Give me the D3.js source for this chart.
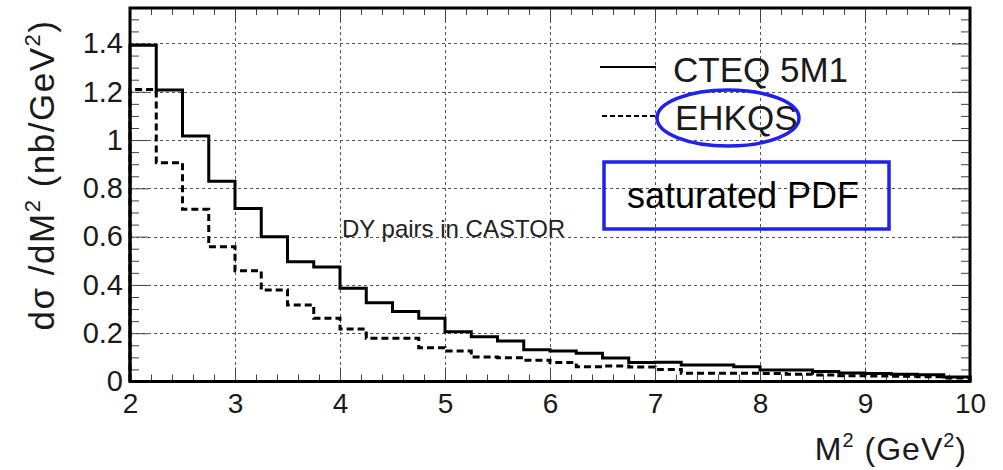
<!DOCTYPE html>
<html>
<head>
<meta charset="utf-8">
<script src="https://cdn.jsdelivr.net/npm/d3@7"></script>
<style>
  html, body { margin: 0; padding: 0; background: #fff; }
  svg { display: block; }
  text { font-family: "Liberation Sans", Arial, Helvetica, sans-serif; }
</style>
</head>
<body>
<svg id="chart" width="1003" height="470"></svg>
<script>
// ---- data ----
const binEdgesStart = [2.0, 2.25, 2.5, 2.75, 3.0, 3.25, 3.5, 3.75, 4.0, 4.25, 4.5, 4.75,
  5.0, 5.25, 5.5, 5.75, 6.0, 6.25, 6.5, 6.75, 7.0, 7.25, 7.5, 7.75,
  8.0, 8.25, 8.5, 8.75, 9.0, 9.25, 9.5, 9.75];
const binWidth = 0.25;
const cteq5m1 = [1.393, 1.207, 1.017, 0.829, 0.717, 0.600, 0.496, 0.474, 0.386, 0.326, 0.290, 0.262,
  0.206, 0.185, 0.168, 0.131, 0.126, 0.117, 0.097, 0.079, 0.080, 0.068, 0.068, 0.061,
  0.048, 0.048, 0.041, 0.035, 0.033, 0.030, 0.028, 0.019];
const ehkqs = [1.209, 0.906, 0.713, 0.558, 0.459, 0.379, 0.317, 0.262, 0.217, 0.179, 0.179, 0.140,
  0.126, 0.101, 0.098, 0.088, 0.079, 0.061, 0.064, 0.060, 0.050, 0.034, 0.034, 0.034,
  0.033, 0.030, 0.027, 0.024, 0.023, 0.022, 0.020, 0.015];
const xTickValues = [2, 3, 4, 5, 6, 7, 8, 9, 10];
const xTickLabels = ["2", "3", "4", "5", "6", "7", "8", "9", "10"];
const yTickValues = [0, 0.2, 0.4, 0.6, 0.8, 1.0, 1.2, 1.4];
const yTickLabels = ["0", "0.2", "0.4", "0.6", "0.8", "1", "1.2", "1.4"];
const xDomain = [2, 10];
const yDomain = [0, 1.547];
const legendLabels = ["CTEQ 5M1", "EHKQS"];
const annotation = "DY pairs in CASTOR";
const boxLabel = "saturated PDF";

// ---- layout ----
const L = 130, R = 970, T = 8, B = 381.5;
const svg = d3.select("#chart");
svg.append("rect").attr("width", 1003).attr("height", 470).attr("fill", "#fff");

const x = d3.scaleLinear().domain(xDomain).range([L, R]);
const y = d3.scaleLinear().domain(yDomain).range([B, T]);

const xMinor = d3.range(2, 10.0001, 0.2).map(v => +v.toFixed(2)).filter(v => Math.abs(v - Math.round(v)) > 1e-6);
const yMinor = d3.range(0, 1.5401, 0.05).map(v => +v.toFixed(2)).filter(v => !yTickValues.some(t => Math.abs(t - v) < 1e-6));

// grid
const grid = svg.append("g").attr("stroke", "#555").attr("stroke-width", 1).attr("stroke-dasharray", "3,3");
grid.selectAll("line.gx").data(xTickValues.slice(1, -1)).join("line")
  .attr("x1", d => Math.round(x(d)) + 0.5).attr("x2", d => Math.round(x(d)) + 0.5)
  .attr("y1", T).attr("y2", B);
grid.selectAll("line.gy").data(yTickValues.slice(1)).join("line")
  .attr("y1", d => Math.round(y(d)) + 0.5).attr("y2", d => Math.round(y(d)) + 0.5)
  .attr("x1", L).attr("x2", R);

// axes (ticks inward)
function styleAxis(g) {
  g.select(".domain").remove();
  g.selectAll(".tick line").attr("stroke", "#444").attr("stroke-width", 1);
  g.selectAll("text").attr("fill", "#1a1a1a").attr("font-size", 28)
    .style("font-family", "'Liberation Sans', Arial, sans-serif");
}
const axB = svg.append("g").attr("transform", `translate(0,${B})`)
  .call(d3.axisBottom(x).tickValues(xTickValues).tickSize(-14).tickPadding(12)
    .tickFormat((d, i) => xTickLabels[i]));
styleAxis(axB);
const axBm = svg.append("g").attr("transform", `translate(0,${B})`)
  .call(d3.axisBottom(x).tickValues(xMinor).tickSize(-7).tickFormat(""));
styleAxis(axBm);
const axT = svg.append("g").attr("transform", `translate(0,${T})`)
  .call(d3.axisTop(x).tickValues(xTickValues).tickSize(-14).tickFormat(""));
styleAxis(axT);
const axTm = svg.append("g").attr("transform", `translate(0,${T})`)
  .call(d3.axisTop(x).tickValues(xMinor).tickSize(-7).tickFormat(""));
styleAxis(axTm);
const axL = svg.append("g").attr("transform", `translate(${L},0)`)
  .call(d3.axisLeft(y).tickValues(yTickValues).tickSize(-18).tickPadding(7)
    .tickFormat((d, i) => yTickLabels[i]));
styleAxis(axL);
axL.selectAll("text").attr("font-size", 29);
const axLm = svg.append("g").attr("transform", `translate(${L},0)`)
  .call(d3.axisLeft(y).tickValues(yMinor).tickSize(-9).tickFormat(""));
styleAxis(axLm);
const axR = svg.append("g").attr("transform", `translate(${R},0)`)
  .call(d3.axisRight(y).tickValues(yTickValues).tickSize(-18).tickFormat(""));
styleAxis(axR);
const axRm = svg.append("g").attr("transform", `translate(${R},0)`)
  .call(d3.axisRight(y).tickValues(yMinor).tickSize(-9).tickFormat(""));
styleAxis(axRm);

// histograms
function histPoints(vals) {
  const pts = [[binEdgesStart[0], 0]];
  vals.forEach((v, i) => pts.push([binEdgesStart[i], v]));
  pts.push([binEdgesStart[binEdgesStart.length - 1] + binWidth, vals[vals.length - 1]]);
  pts.push([binEdgesStart[binEdgesStart.length - 1] + binWidth, 0]);
  return pts;
}
const stepLine = d3.line().x(d => x(d[0])).y(d => y(d[1])).curve(d3.curveStepAfter);
svg.append("path").attr("d", stepLine(histPoints(ehkqs)))
  .attr("fill", "none").attr("stroke", "#000").attr("stroke-width", 3)
  .attr("stroke-dasharray", "7,4");
svg.append("path").attr("d", stepLine(histPoints(cteq5m1)))
  .attr("fill", "none").attr("stroke", "#000").attr("stroke-width", 3);

// frame
svg.append("rect").attr("x", L).attr("y", T).attr("width", R - L).attr("height", B - T)
  .attr("fill", "none").attr("stroke", "#000").attr("stroke-width", 3);

// axis titles
const yt = svg.append("text")
  .attr("transform", "translate(54,175) rotate(-90)")
  .attr("text-anchor", "middle").attr("font-size", 35).attr("fill", "#1a1a1a")
  .attr("letter-spacing", 1.5);
yt.append("tspan").text("dσ /dM");
yt.append("tspan").attr("font-size", 22).attr("dy", -14).text("2");
yt.append("tspan").attr("dy", 14).text(" (nb/GeV");
yt.append("tspan").attr("font-size", 22).attr("dy", -14).text("2");
yt.append("tspan").attr("dy", 14).text(")");

const xt = svg.append("text").attr("x", 967).attr("y", 460)
  .attr("text-anchor", "end").attr("font-size", 32).attr("fill", "#1a1a1a")
  .attr("letter-spacing", 1);
xt.append("tspan").text("M");
xt.append("tspan").attr("font-size", 20).attr("dy", -13).text("2");
xt.append("tspan").attr("dy", 13).text(" (GeV");
xt.append("tspan").attr("font-size", 20).attr("dy", -13).text("2");
xt.append("tspan").attr("dy", 13).text(")");

// annotation
svg.append("text").attr("x", 342).attr("y", 237).attr("font-size", 24)
  .attr("fill", "#222").text(annotation);

// legend
svg.append("line").attr("x1", 600).attr("x2", 656).attr("y1", 67).attr("y2", 67)
  .attr("stroke", "#000").attr("stroke-width", 2);
svg.append("line").attr("x1", 602).attr("x2", 657).attr("y1", 116).attr("y2", 116)
  .attr("stroke", "#000").attr("stroke-width", 2).attr("stroke-dasharray", "5,3");
svg.append("text").attr("x", 673).attr("y", 82).attr("font-size", 35).attr("fill", "#1a1a1a")
  .text(legendLabels[0]);
svg.append("text").attr("x", 675).attr("y", 130).attr("font-size", 35).attr("fill", "#1a1a1a")
  .text(legendLabels[1]);

// blue annotations
svg.append("ellipse").attr("cx", 728).attr("cy", 118).attr("rx", 71).attr("ry", 28)
  .attr("fill", "none").attr("stroke", "#2020f0").attr("stroke-width", 3.5);
svg.append("rect").attr("x", 604).attr("y", 162).attr("width", 285).attr("height", 67)
  .attr("fill", "none").attr("stroke", "#2020f0").attr("stroke-width", 3.5);
svg.append("text").attr("x", 627).attr("y", 208).attr("font-size", 36).attr("fill", "#000")
  .text(boxLabel);
</script>
</body>
</html>
